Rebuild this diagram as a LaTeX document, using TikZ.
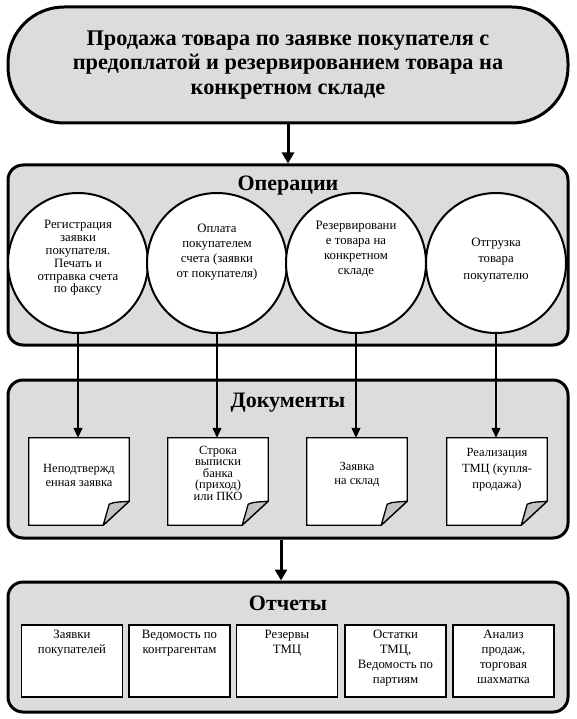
\documentclass[tikz,border=0pt]{standalone}
\usepackage{fontspec}
\setmainfont{Liberation Serif}
\usetikzlibrary{arrows.meta}
\definecolor{panel}{HTML}{DCDCDC}
\definecolor{flap}{HTML}{C4C4C4}
\newcommand\docpage[1]{%
  \draw[docline, fill=white] (#1.north west) -- (#1.north east) -- ([yshift=24pt]#1.south east) -- ([xshift=-26pt]#1.south east) -- (#1.south west) -- cycle;
  \draw[docline, fill=flap, line join=round] ([yshift=24pt]#1.south east) .. controls ([xshift=-7pt,yshift=23pt]#1.south east) and ([xshift=-14pt,yshift=24pt]#1.south east) .. ([xshift=-20pt,yshift=21pt]#1.south east) -- ([xshift=-26pt]#1.south east) -- cycle;
}
\begin{document}
\begin{tikzpicture}[x=1pt,y=-1pt,
  panelbox/.style={draw, line width=3pt, fill=panel, rounded corners=15pt, minimum width=560pt, inner sep=0pt},
  ttl/.style={font=\fontsize{22}{24}\selectfont\bfseries, inner sep=0pt},
  circ/.style={draw, line width=2pt, fill=white, circle, minimum size=140pt, inner sep=0pt},
  ctext/.style={align=center, inner sep=0pt, font=\fontsize{12.8}{15}\selectfont},
  docnode/.style={minimum width=100pt, minimum height=87pt, inner sep=0pt},
  docline/.style={line width=1.3pt},
  dtext/.style={align=center, inner sep=0pt, font=\fontsize{12.5}{14}\selectfont},
  repbox/.style={draw, line width=1.5pt, fill=white, minimum width=101pt, minimum height=72pt, inner sep=0pt},
  rtext/.style={align=center, inner sep=0pt, anchor=north, font=\fontsize{12.8}{15}\selectfont},
  thin/.style={line width=1.3pt, -{Triangle[width=9pt,length=10pt]}},
  thick/.style={line width=3pt, -{Triangle[width=12pt,length=11pt]}}
]
\useasboundingbox (0,0) rectangle (577,719);

% top process
\node[panelbox, rounded corners=56pt, minimum height=116pt, align=center,
      font=\fontsize{22.3}{24.5}\selectfont\bfseries] (top) at (288,65)
  {Продажа товара по заявке покупателя с\\предоплатой и резервированием товара на\\конкретном складе};

% panels
\node[panelbox, minimum height=180pt] (ops) at (288,255) {};
\node[panelbox, minimum height=158pt] (docs) at (288,459) {};
\node[panelbox, minimum height=130pt] (reps) at (288,647) {};

\node[ttl] (opsT) at (288,186) {Операции};
\node[ttl] (docsT) at (288,403) {Документы};
\node[ttl] (repsT) at (288,603) {Отчеты};

% documents
\node[docnode] (d1) at (79,481.5) {};
\node[docnode] (d2) at (218,481.5) {};
\node[docnode] (d3) at (357,481.5) {};
\node[docnode] (d4) at (497,481.5) {};
\docpage{d1}\docpage{d2}\docpage{d3}\docpage{d4}
\node[dtext] (d1t) at (79,475) {Неподтвержд\\енная заявка};
\node[dtext, font=\fontsize{12.5}{11.5}\selectfont] (d2t) at (218,473) {Строка\\выписки\\банка\\(приход)\\или ПКО};
\node[dtext] (d3t) at (357,475) {Заявка\\на склад};
\node[dtext, font=\fontsize{12.5}{16}\selectfont] (d4t) at (497,470) {Реализация\\ТМЦ (купля-\\продажа)};

% operations
\node[circ] (c1) at (78,263) {};
\node[circ] (c2) at (217,263) {};
\node[circ] (c3) at (356,263) {};
\node[circ] (c4) at (496,263) {};
\draw[thin] (c1.south) -- (c1.south |- d1.north);
\draw[thin] (c2.south) -- (c2.south |- d2.north);
\draw[thin] (c3.south) -- (c3.south |- d3.north);
\draw[thin] (c4.south) -- (c4.south |- d4.north);

\node[ctext, font=\fontsize{12.8}{12.8}\selectfont] (c1t) at (78,258) {Регистрация\\заявки\\покупателя.\\Печать и\\отправка счета\\по факсу};
\node[ctext] (c2t) at (217,252) {Оплата\\покупателем\\счета (заявки\\от покупателя)};
\node[ctext] (c3t) at (356,249) {Резервировани\\е товара на\\конкретном\\складе};
\node[ctext, font=\fontsize{12.8}{16.5}\selectfont] (c4t) at (496,260) {Отгрузка\\товара\\покупателю};

\draw[thick] (top.south) -- (ops.north);
\draw[thick] ([xshift=-7pt]docs.south) -- ([xshift=-7pt]reps.north);

% reports
\node[repbox] (r1) at (72,661) {};
\node[repbox] (r2) at (179.5,661) {};
\node[repbox] (r3) at (287,661) {};
\node[repbox] (r4) at (395.5,661) {};
\node[repbox] (r5) at (503.5,661) {};
\node[rtext] (r1t) at (72,630) {Заявки\\покупателей};
\node[rtext] (r2t) at (179.5,630) {Ведомость по\\контрагентам};
\node[rtext] (r3t) at (287,630) {Резервы\\ТМЦ};
\node[rtext] (r4t) at (395.5,630) {Остатки\\ТМЦ,\\Ведомость по\\партиям};
\node[rtext] (r5t) at (503.5,630) {Анализ\\продаж,\\торговая\\шахматка};
\end{tikzpicture}
\end{document}
